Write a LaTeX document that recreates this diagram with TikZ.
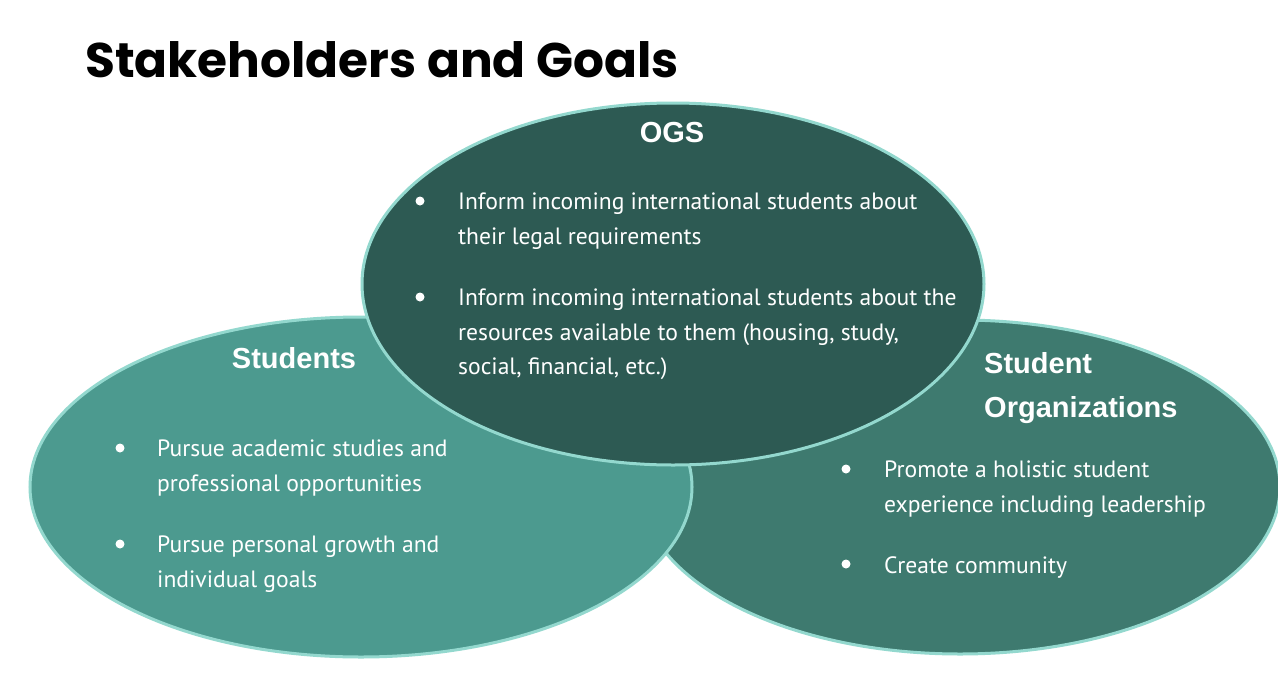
\documentclass[tikz,border=0pt]{standalone}
\usepackage{fontspec}
\setmainfont{PT Sans}
\newfontfamily\headfont{Liberation Sans}
\newfontfamily\titlefont{Poppins}
\usepackage{xcolor}
\usepackage{tikz}
\definecolor{rim}{HTML}{93D8CE}
\definecolor{stuFill}{HTML}{4C9A8F}
\definecolor{orgFill}{HTML}{3E7A6F}
\definecolor{ogsFill}{HTML}{2D5A53}
\definecolor{ink}{HTML}{FFFFFF}
\tikzset{
  blob/.style={draw=rim, line width=3pt},
  headLbl/.style={text=ink, font=\headfont\bfseries\fontsize{29}{44}\selectfont, inner sep=0pt},
  bodyLbl/.style={text=ink, font=\fontsize{23.6}{34.5}\selectfont, align=left, inner sep=0pt, anchor=north west},
  dotLbl/.style={circle, fill=ink, inner sep=0pt, minimum size=9pt},
}
\begin{document}
\begin{tikzpicture}[x=1pt, y=-1pt]
  \useasboundingbox (0,0) rectangle (1278,678);
  \fill[white] (0,0) rectangle (1278,678);

  % title
  \node[anchor=base west, inner sep=0pt, font=\titlefont\bfseries\fontsize{48.6}{58}\selectfont] (title) at (85,77) {Stakeholders and Goals};

  % the three circles, back to front
  \draw[blob, fill=orgFill] (960,487) ellipse [x radius=320, y radius=167];
  \draw[blob, fill=stuFill] (361,487) ellipse [x radius=331, y radius=170];
  \draw[blob, fill=ogsFill] (673,284) ellipse [x radius=311, y radius=181];

  % OGS
  \node[headLbl] (ogsHead) at (672,133) {OGS};
  \node[dotLbl] (ogsDotA) at (420,201) {};
  \node[bodyLbl] (ogsGoalA) at (458,193) {Inform incoming international students about\\their legal requirements};
  \node[dotLbl] (ogsDotB) at (420,297) {};
  \node[bodyLbl] (ogsGoalB) at (458,289) {Inform incoming international students about the\\resources available to them (housing, study,\\social, financial, etc.)};

  % Students
  \node[headLbl] (stuHead) at (294,358) {Students};
  \node[dotLbl] (stuDotA) at (120,448) {};
  \node[bodyLbl] (stuGoalA) at (157,440) {Pursue academic studies and\\professional opportunities};
  \node[dotLbl] (stuDotB) at (120,544) {};
  \node[bodyLbl] (stuGoalB) at (157,536) {Pursue personal growth and\\individual goals};

  % Student Organizations
  \node[headLbl, align=left, anchor=north west] (orgHead) at (984,352) {Student\\Organizations};
  \node[dotLbl] (orgDotA) at (846,469) {};
  \node[bodyLbl] (orgGoalA) at (884,461) {Promote a holistic student\\experience including leadership};
  \node[dotLbl] (orgDotB) at (846,564) {};
  \node[bodyLbl] (orgGoalB) at (884,556) {Create community};
\end{tikzpicture}
\end{document}
